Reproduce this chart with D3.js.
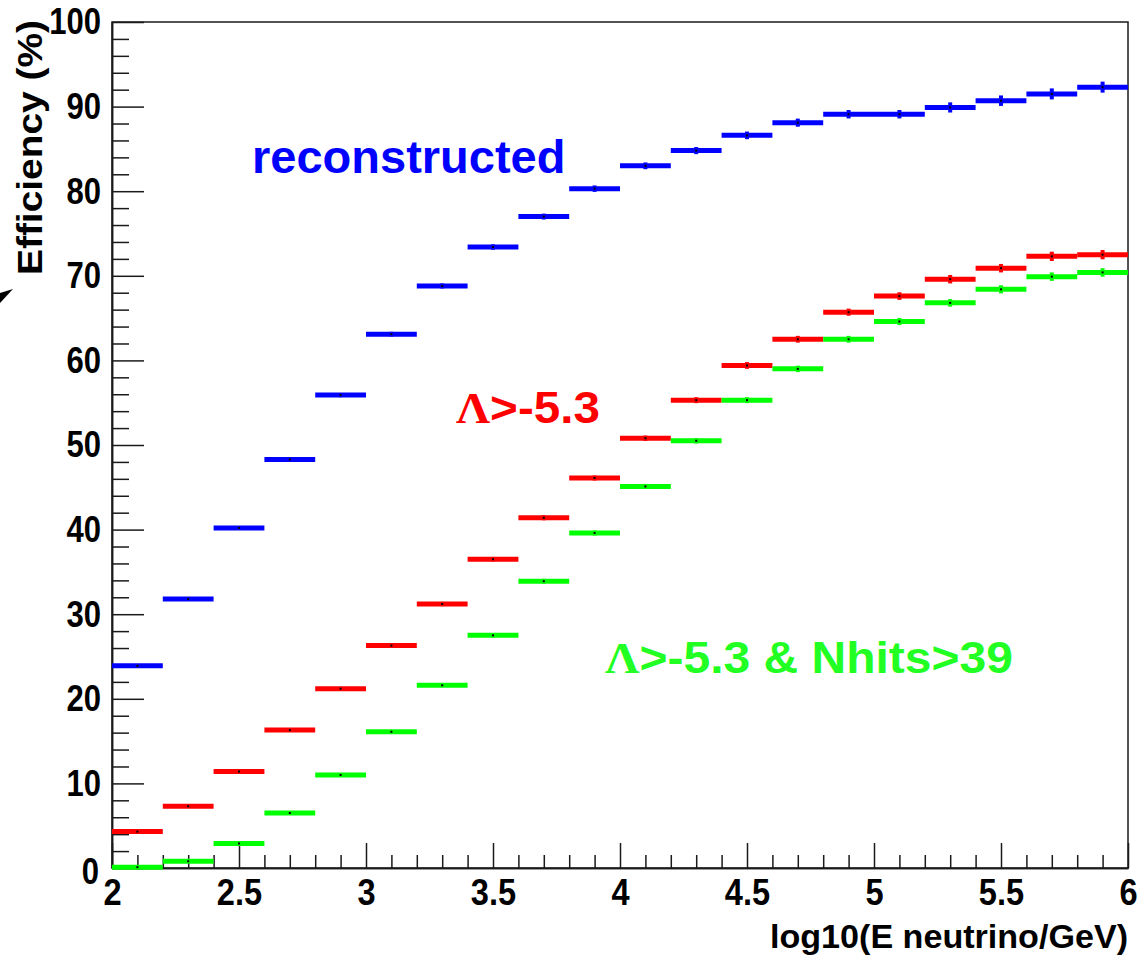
<!DOCTYPE html>
<html><head><meta charset="utf-8">
<script src="https://cdn.jsdelivr.net/npm/d3@7"></script>
<style>body{margin:0;background:#fff}svg{display:block}</style>
</head><body>
<svg id="c" width="1143" height="958"></svg>
<script>
// ---- data ----
const binLow  = [2.0,2.2,2.4,2.6,2.8,3.0,3.2,3.4,3.6,3.8,4.0,4.2,4.4,4.6,4.8,5.0,5.2,5.4,5.6,5.8];
const binHigh = [2.2,2.4,2.6,2.8,3.0,3.2,3.4,3.6,3.8,4.0,4.2,4.4,4.6,4.8,5.0,5.2,5.4,5.6,5.8,6.0];
const reconstructed = [23.9,31.8,40.2,48.3,55.9,63.1,68.8,73.4,77.0,80.3,83.0,84.8,86.6,88.1,89.1,89.1,89.9,90.7,91.5,92.3];
const reconstructedErr = [0.15,0.18,0.2,0.22,0.25,0.28,0.3,0.32,0.35,0.38,0.4,0.42,0.45,0.48,0.5,0.5,0.6,0.62,0.65,0.65];
const lambdaCut = [4.3,7.3,11.4,16.3,21.2,26.3,31.2,36.5,41.4,46.1,50.8,55.3,59.4,62.5,65.7,67.6,69.6,70.9,72.3,72.5];
const lambdaCutErr = [0.1,0.12,0.15,0.18,0.2,0.22,0.25,0.27,0.3,0.3,0.32,0.35,0.4,0.4,0.42,0.45,0.5,0.5,0.55,0.55];
const lambdaNhits = [0.1,0.8,2.9,6.5,11.0,16.1,21.6,27.5,33.9,39.6,45.1,50.5,55.3,59.0,62.5,64.6,66.8,68.4,69.9,70.4];
const lambdaNhitsErr = [0.05,0.08,0.1,0.15,0.18,0.2,0.22,0.25,0.27,0.3,0.3,0.32,0.35,0.38,0.4,0.42,0.45,0.48,0.5,0.5];
const xMajorTicks = [2,2.5,3,3.5,4,4.5,5,5.5,6];
const xTickLabels = ["2","2.5","3","3.5","4","4.5","5","5.5","6"];
const xMinorTicks = [2.1,2.2,2.3,2.4,2.6,2.7,2.8,2.9,3.1,3.2,3.3,3.4,3.6,3.7,3.8,3.9,4.1,4.2,4.3,4.4,4.6,4.7,4.8,4.9,5.1,5.2,5.3,5.4,5.6,5.7,5.8,5.9];
const yMajorTicks = [0,10,20,30,40,50,60,70,80,90,100];
const yTickLabels = ["0","10","20","30","40","50","60","70","80","90","100"];
const yMinorTicks = [2,4,6,8,12,14,16,18,22,24,26,28,32,34,36,38,42,44,46,48,52,54,56,58,62,64,66,68,72,74,76,78,82,84,86,88,92,94,96,98];
const seriesNames = ["reconstructed","Λ>-5.3","Λ>-5.3 & Nhits>39"];

// ---- layout ----
const svg = d3.select("#c");
const L = 112, R = 1128, T = 22, B = 868;
const x = d3.scaleLinear().domain([2,6]).range([L,R]);
const y = d3.scaleLinear().domain([0,100]).range([B,T]);
const FONT = "'Liberation Sans', Arial, Helvetica, sans-serif";
const AX = "#1a1a1a";

svg.append("rect").attr("width",1143).attr("height",958).attr("fill","#fff");

// frame
svg.append("rect").attr("x",L).attr("y",T).attr("width",R-L).attr("height",B-T)
  .attr("fill","none").attr("stroke",AX).attr("stroke-width",1.5);

// axes
function styleAxis(g){
  g.select(".domain").attr("stroke",AX).attr("stroke-width",1.5);
  g.selectAll(".tick line").attr("stroke",AX).attr("stroke-width",1.5);
}
const yMinor = svg.append("g").attr("transform",`translate(${L},0)`)
  .call(d3.axisLeft(y).tickValues(yMinorTicks).tickSize(-17).tickSizeOuter(0).tickFormat(""));
styleAxis(yMinor);
const sx = 0.84, pad = 11;
const yMajor = svg.append("g").attr("transform",`translate(${L},0)`)
  .call(d3.axisLeft(y).tickValues(yMajorTicks).tickSize(-32).tickSizeOuter(0).tickPadding(pad)
    .tickFormat((d,i)=>yTickLabels[i]));
styleAxis(yMajor);
yMajor.selectAll(".tick text").attr("font-family",FONT).attr("font-weight","bold")
  .attr("font-size",37).attr("fill","#000")
  .attr("x",-pad/sx).attr("transform",`scale(${sx},1)`);
yMajor.selectAll(".tick").filter(d=>d===0).select("text").attr("dy","0.42em").attr("x",-13/sx);

const xMinor = svg.append("g").attr("transform",`translate(0,${B})`)
  .call(d3.axisBottom(x).tickValues(xMinorTicks).tickSize(-13).tickSizeOuter(0).tickFormat(""));
styleAxis(xMinor);
const xMajor = svg.append("g").attr("transform",`translate(0,${B})`)
  .call(d3.axisBottom(x).tickValues(xMajorTicks).tickSize(-25).tickSizeOuter(0).tickPadding(11)
    .tickFormat((d,i)=>xTickLabels[i]));
styleAxis(xMajor);
xMajor.selectAll(".tick text").attr("font-family",FONT).attr("font-weight","bold")
  .attr("font-size",37).attr("fill","#000").attr("transform",`scale(${sx+0.04},1)`)
  .attr("x",0);

// axis titles
svg.append("text").attr("x",R).attr("y",948).attr("text-anchor","end")
  .attr("font-family",FONT).attr("font-weight","bold").attr("font-size",34)
  .attr("textLength",358).attr("lengthAdjust","spacingAndGlyphs")
  .text("log10(E neutrino/GeV)");
svg.append("text").attr("transform","translate(42,20) rotate(-90)").attr("text-anchor","end")
  .attr("font-family",FONT).attr("font-weight","bold").attr("font-size",35)
  .attr("textLength",255).attr("lengthAdjust","spacingAndGlyphs")
  .text("Efficiency (%)");

// small stray marker at left edge
svg.append("path").attr("d","M0,293 L13,289 L0,303 Z").attr("fill","#000");

// series
const series = [
  {vals: reconstructed, errs: reconstructedErr, color:"#0000ff"},
  {vals: lambdaCut, errs: lambdaCutErr, color:"#ff0000"},
  {vals: lambdaNhits, errs: lambdaNhitsErr, color:"#00ff00"}
];
series.forEach(s=>{
  const g = svg.append("g");
  const idx = d3.range(s.vals.length);
  g.selectAll("line.h").data(idx).join("line").attr("class","h")
    .attr("x1",i=>x(binLow[i])).attr("x2",i=>x(binHigh[i]))
    .attr("y1",i=>y(s.vals[i])).attr("y2",i=>y(s.vals[i]))
    .attr("stroke",s.color).attr("stroke-width",5);
  g.selectAll("line.v").data(idx).join("line").attr("class","v")
    .attr("x1",i=>x((binLow[i]+binHigh[i])/2)).attr("x2",i=>x((binLow[i]+binHigh[i])/2))
    .attr("y1",i=>y(s.vals[i]-s.errs[i])).attr("y2",i=>y(s.vals[i]+s.errs[i]))
    .attr("stroke",s.color).attr("stroke-width",4);
  g.selectAll("rect.m").data(idx).join("rect").attr("class","m")
    .attr("x",i=>x((binLow[i]+binHigh[i])/2)-1).attr("y",i=>y(s.vals[i])-1)
    .attr("width",2).attr("height",2).attr("fill","#000");
});

// labels
svg.append("text").attr("x",252).attr("y",173)
  .attr("font-family",FONT).attr("font-weight","bold").attr("font-size",47)
  .attr("fill","#0000ff").text(seriesNames[0]);

function lambdaLabel(xp, yp, rest, color, size, len){
  const t = svg.append("text").attr("x",xp).attr("y",yp).attr("fill",color)
    .attr("font-weight","bold").attr("font-size",size)
    .attr("textLength",len).attr("lengthAdjust","spacingAndGlyphs");
  t.append("tspan").attr("font-family","'Liberation Serif','Times New Roman',serif").text("Λ");
  t.append("tspan").attr("font-family",FONT).text(rest);
}
lambdaLabel(456, 423, seriesNames[1].slice(1), "#ff0000", 45, 144);
lambdaLabel(605, 673, seriesNames[2].slice(1), "#22ff22", 44, 408);
</script>
</body></html>
